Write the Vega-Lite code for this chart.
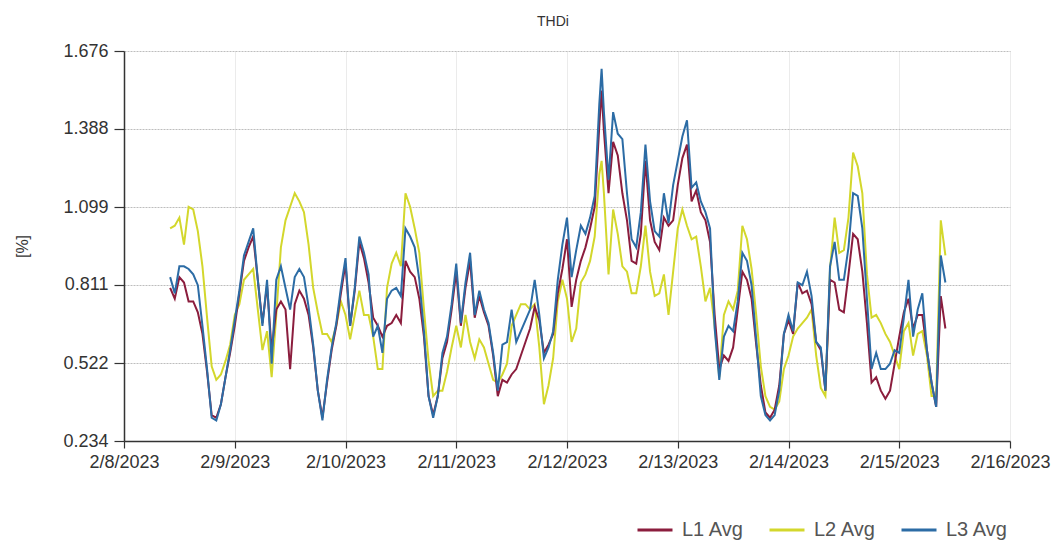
{
  "$schema": "https://vega.github.io/schema/vega-lite/v6.json",
  "width": 886,
  "height": 390,
  "autosize": "none",
  "padding": {"left": 124, "top": 51, "right": 45, "bottom": 101},
  "background": "white",
  "title": {
    "text": "THDi",
    "fontSize": 14,
    "fontWeight": "normal",
    "font": "Liberation Sans",
    "color": "#333333",
    "anchor": "middle",
    "dx": -14,
    "offset": 13
  },
  "data": {
    "values": [
      {"time": "2023-02-08T10:00", "L1 Avg": 0.80, "L2 Avg": 1.02, "L3 Avg": 0.84},
      {"time": "2023-02-08T11:00", "L1 Avg": 0.76, "L2 Avg": 1.03, "L3 Avg": 0.78},
      {"time": "2023-02-08T12:00", "L1 Avg": 0.84, "L2 Avg": 1.06, "L3 Avg": 0.88},
      {"time": "2023-02-08T13:00", "L1 Avg": 0.82, "L2 Avg": 0.96, "L3 Avg": 0.88},
      {"time": "2023-02-08T14:00", "L1 Avg": 0.75, "L2 Avg": 1.10, "L3 Avg": 0.87},
      {"time": "2023-02-08T15:00", "L1 Avg": 0.75, "L2 Avg": 1.09, "L3 Avg": 0.85},
      {"time": "2023-02-08T16:00", "L1 Avg": 0.71, "L2 Avg": 1.01, "L3 Avg": 0.81},
      {"time": "2023-02-08T17:00", "L1 Avg": 0.63, "L2 Avg": 0.88, "L3 Avg": 0.66},
      {"time": "2023-02-08T18:00", "L1 Avg": 0.49, "L2 Avg": 0.69, "L3 Avg": 0.50},
      {"time": "2023-02-08T19:00", "L1 Avg": 0.33, "L2 Avg": 0.51, "L3 Avg": 0.32},
      {"time": "2023-02-08T20:00", "L1 Avg": 0.32, "L2 Avg": 0.46, "L3 Avg": 0.31},
      {"time": "2023-02-08T21:00", "L1 Avg": 0.37, "L2 Avg": 0.48, "L3 Avg": 0.37},
      {"time": "2023-02-08T22:00", "L1 Avg": 0.47, "L2 Avg": 0.53, "L3 Avg": 0.47},
      {"time": "2023-02-08T23:00", "L1 Avg": 0.56, "L2 Avg": 0.59, "L3 Avg": 0.57},
      {"time": "2023-02-09T00:00", "L1 Avg": 0.66, "L2 Avg": 0.70, "L3 Avg": 0.68},
      {"time": "2023-02-09T01:00", "L1 Avg": 0.78, "L2 Avg": 0.74, "L3 Avg": 0.79},
      {"time": "2023-02-09T02:00", "L1 Avg": 0.90, "L2 Avg": 0.83, "L3 Avg": 0.92},
      {"time": "2023-02-09T03:00", "L1 Avg": 0.95, "L2 Avg": 0.85, "L3 Avg": 0.97},
      {"time": "2023-02-09T04:00", "L1 Avg": 0.99, "L2 Avg": 0.87, "L3 Avg": 1.02},
      {"time": "2023-02-09T05:00", "L1 Avg": 0.83, "L2 Avg": 0.72, "L3 Avg": 0.83},
      {"time": "2023-02-09T06:00", "L1 Avg": 0.67, "L2 Avg": 0.57, "L3 Avg": 0.66},
      {"time": "2023-02-09T07:00", "L1 Avg": 0.81, "L2 Avg": 0.64, "L3 Avg": 0.83},
      {"time": "2023-02-09T08:00", "L1 Avg": 0.57, "L2 Avg": 0.47, "L3 Avg": 0.52},
      {"time": "2023-02-09T09:00", "L1 Avg": 0.72, "L2 Avg": 0.70, "L3 Avg": 0.83},
      {"time": "2023-02-09T10:00", "L1 Avg": 0.75, "L2 Avg": 0.95, "L3 Avg": 0.88},
      {"time": "2023-02-09T11:00", "L1 Avg": 0.72, "L2 Avg": 1.05, "L3 Avg": 0.80},
      {"time": "2023-02-09T12:00", "L1 Avg": 0.50, "L2 Avg": 1.10, "L3 Avg": 0.72},
      {"time": "2023-02-09T13:00", "L1 Avg": 0.74, "L2 Avg": 1.15, "L3 Avg": 0.84},
      {"time": "2023-02-09T14:00", "L1 Avg": 0.79, "L2 Avg": 1.12, "L3 Avg": 0.87},
      {"time": "2023-02-09T15:00", "L1 Avg": 0.76, "L2 Avg": 1.08, "L3 Avg": 0.84},
      {"time": "2023-02-09T16:00", "L1 Avg": 0.70, "L2 Avg": 0.96, "L3 Avg": 0.73},
      {"time": "2023-02-09T17:00", "L1 Avg": 0.58, "L2 Avg": 0.80, "L3 Avg": 0.59},
      {"time": "2023-02-09T18:00", "L1 Avg": 0.42, "L2 Avg": 0.71, "L3 Avg": 0.42},
      {"time": "2023-02-09T19:00", "L1 Avg": 0.32, "L2 Avg": 0.63, "L3 Avg": 0.31},
      {"time": "2023-02-09T20:00", "L1 Avg": 0.45, "L2 Avg": 0.63, "L3 Avg": 0.46},
      {"time": "2023-02-09T21:00", "L1 Avg": 0.57, "L2 Avg": 0.60, "L3 Avg": 0.58},
      {"time": "2023-02-09T22:00", "L1 Avg": 0.66, "L2 Avg": 0.66, "L3 Avg": 0.67},
      {"time": "2023-02-09T23:00", "L1 Avg": 0.78, "L2 Avg": 0.75, "L3 Avg": 0.80},
      {"time": "2023-02-10T00:00", "L1 Avg": 0.89, "L2 Avg": 0.70, "L3 Avg": 0.91},
      {"time": "2023-02-10T01:00", "L1 Avg": 0.66, "L2 Avg": 0.61, "L3 Avg": 0.66},
      {"time": "2023-02-10T02:00", "L1 Avg": 0.79, "L2 Avg": 0.70, "L3 Avg": 0.80},
      {"time": "2023-02-10T03:00", "L1 Avg": 0.97, "L2 Avg": 0.79, "L3 Avg": 0.99},
      {"time": "2023-02-10T04:00", "L1 Avg": 0.91, "L2 Avg": 0.70, "L3 Avg": 0.93},
      {"time": "2023-02-10T05:00", "L1 Avg": 0.82, "L2 Avg": 0.70, "L3 Avg": 0.85},
      {"time": "2023-02-10T06:00", "L1 Avg": 0.69, "L2 Avg": 0.62, "L3 Avg": 0.62},
      {"time": "2023-02-10T07:00", "L1 Avg": 0.66, "L2 Avg": 0.50, "L3 Avg": 0.66},
      {"time": "2023-02-10T08:00", "L1 Avg": 0.62, "L2 Avg": 0.50, "L3 Avg": 0.56},
      {"time": "2023-02-10T09:00", "L1 Avg": 0.66, "L2 Avg": 0.80, "L3 Avg": 0.76},
      {"time": "2023-02-10T10:00", "L1 Avg": 0.67, "L2 Avg": 0.89, "L3 Avg": 0.79},
      {"time": "2023-02-10T11:00", "L1 Avg": 0.70, "L2 Avg": 0.93, "L3 Avg": 0.80},
      {"time": "2023-02-10T12:00", "L1 Avg": 0.67, "L2 Avg": 0.88, "L3 Avg": 0.77},
      {"time": "2023-02-10T13:00", "L1 Avg": 0.90, "L2 Avg": 1.15, "L3 Avg": 1.02},
      {"time": "2023-02-10T14:00", "L1 Avg": 0.86, "L2 Avg": 1.10, "L3 Avg": 0.99},
      {"time": "2023-02-10T15:00", "L1 Avg": 0.84, "L2 Avg": 1.02, "L3 Avg": 0.95},
      {"time": "2023-02-10T16:00", "L1 Avg": 0.76, "L2 Avg": 0.93, "L3 Avg": 0.83},
      {"time": "2023-02-10T17:00", "L1 Avg": 0.62, "L2 Avg": 0.72, "L3 Avg": 0.64},
      {"time": "2023-02-10T18:00", "L1 Avg": 0.40, "L2 Avg": 0.53, "L3 Avg": 0.40},
      {"time": "2023-02-10T19:00", "L1 Avg": 0.33, "L2 Avg": 0.40, "L3 Avg": 0.32},
      {"time": "2023-02-10T20:00", "L1 Avg": 0.40, "L2 Avg": 0.42, "L3 Avg": 0.40},
      {"time": "2023-02-10T21:00", "L1 Avg": 0.54, "L2 Avg": 0.42, "L3 Avg": 0.56},
      {"time": "2023-02-10T22:00", "L1 Avg": 0.60, "L2 Avg": 0.49, "L3 Avg": 0.62},
      {"time": "2023-02-10T23:00", "L1 Avg": 0.72, "L2 Avg": 0.58, "L3 Avg": 0.74},
      {"time": "2023-02-11T00:00", "L1 Avg": 0.86, "L2 Avg": 0.66, "L3 Avg": 0.89},
      {"time": "2023-02-11T01:00", "L1 Avg": 0.66, "L2 Avg": 0.58, "L3 Avg": 0.67},
      {"time": "2023-02-11T02:00", "L1 Avg": 0.80, "L2 Avg": 0.70, "L3 Avg": 0.82},
      {"time": "2023-02-11T03:00", "L1 Avg": 0.90, "L2 Avg": 0.60, "L3 Avg": 0.93},
      {"time": "2023-02-11T04:00", "L1 Avg": 0.69, "L2 Avg": 0.54, "L3 Avg": 0.70},
      {"time": "2023-02-11T05:00", "L1 Avg": 0.77, "L2 Avg": 0.61, "L3 Avg": 0.79},
      {"time": "2023-02-11T06:00", "L1 Avg": 0.71, "L2 Avg": 0.58, "L3 Avg": 0.72},
      {"time": "2023-02-11T07:00", "L1 Avg": 0.66, "L2 Avg": 0.52, "L3 Avg": 0.67},
      {"time": "2023-02-11T08:00", "L1 Avg": 0.55, "L2 Avg": 0.46, "L3 Avg": 0.56},
      {"time": "2023-02-11T09:00", "L1 Avg": 0.40, "L2 Avg": 0.45, "L3 Avg": 0.42},
      {"time": "2023-02-11T10:00", "L1 Avg": 0.46, "L2 Avg": 0.48, "L3 Avg": 0.59},
      {"time": "2023-02-11T11:00", "L1 Avg": 0.45, "L2 Avg": 0.52, "L3 Avg": 0.60},
      {"time": "2023-02-11T12:00", "L1 Avg": 0.48, "L2 Avg": 0.66, "L3 Avg": 0.72},
      {"time": "2023-02-11T13:00", "L1 Avg": 0.50, "L2 Avg": 0.70, "L3 Avg": 0.60},
      {"time": "2023-02-11T14:00", "L1 Avg": 0.55, "L2 Avg": 0.74, "L3 Avg": 0.64},
      {"time": "2023-02-11T15:00", "L1 Avg": 0.60, "L2 Avg": 0.74, "L3 Avg": 0.68},
      {"time": "2023-02-11T16:00", "L1 Avg": 0.65, "L2 Avg": 0.72, "L3 Avg": 0.72},
      {"time": "2023-02-11T17:00", "L1 Avg": 0.73, "L2 Avg": 0.74, "L3 Avg": 0.83},
      {"time": "2023-02-11T18:00", "L1 Avg": 0.68, "L2 Avg": 0.58, "L3 Avg": 0.70},
      {"time": "2023-02-11T19:00", "L1 Avg": 0.56, "L2 Avg": 0.37, "L3 Avg": 0.54},
      {"time": "2023-02-11T20:00", "L1 Avg": 0.59, "L2 Avg": 0.44, "L3 Avg": 0.58},
      {"time": "2023-02-11T21:00", "L1 Avg": 0.63, "L2 Avg": 0.54, "L3 Avg": 0.64},
      {"time": "2023-02-11T22:00", "L1 Avg": 0.78, "L2 Avg": 0.75, "L3 Avg": 0.83},
      {"time": "2023-02-11T23:00", "L1 Avg": 0.87, "L2 Avg": 0.83, "L3 Avg": 0.96},
      {"time": "2023-02-12T00:00", "L1 Avg": 0.98, "L2 Avg": 0.76, "L3 Avg": 1.06},
      {"time": "2023-02-12T01:00", "L1 Avg": 0.73, "L2 Avg": 0.60, "L3 Avg": 0.84},
      {"time": "2023-02-12T02:00", "L1 Avg": 0.83, "L2 Avg": 0.65, "L3 Avg": 0.94},
      {"time": "2023-02-12T03:00", "L1 Avg": 0.90, "L2 Avg": 0.82, "L3 Avg": 1.03},
      {"time": "2023-02-12T04:00", "L1 Avg": 0.95, "L2 Avg": 0.85, "L3 Avg": 1.00},
      {"time": "2023-02-12T05:00", "L1 Avg": 1.02, "L2 Avg": 0.90, "L3 Avg": 1.06},
      {"time": "2023-02-12T06:00", "L1 Avg": 1.10, "L2 Avg": 0.99, "L3 Avg": 1.14},
      {"time": "2023-02-12T07:00", "L1 Avg": 1.40, "L2 Avg": 1.22, "L3 Avg": 1.48},
      {"time": "2023-02-12T07:30", "L1 Avg": 1.53, "L2 Avg": 1.27, "L3 Avg": 1.61},
      {"time": "2023-02-12T08:00", "L1 Avg": 1.38, "L2 Avg": 1.15, "L3 Avg": 1.45},
      {"time": "2023-02-12T09:00", "L1 Avg": 1.15, "L2 Avg": 0.85, "L3 Avg": 1.20},
      {"time": "2023-02-12T10:00", "L1 Avg": 1.34, "L2 Avg": 1.09, "L3 Avg": 1.45},
      {"time": "2023-02-12T11:00", "L1 Avg": 1.29, "L2 Avg": 1.00, "L3 Avg": 1.37},
      {"time": "2023-02-12T12:00", "L1 Avg": 1.15, "L2 Avg": 0.88, "L3 Avg": 1.35},
      {"time": "2023-02-12T13:00", "L1 Avg": 1.05, "L2 Avg": 0.86, "L3 Avg": 1.15},
      {"time": "2023-02-12T14:00", "L1 Avg": 0.90, "L2 Avg": 0.78, "L3 Avg": 0.98},
      {"time": "2023-02-12T15:00", "L1 Avg": 0.89, "L2 Avg": 0.78, "L3 Avg": 0.95},
      {"time": "2023-02-12T16:00", "L1 Avg": 1.00, "L2 Avg": 0.88, "L3 Avg": 1.08},
      {"time": "2023-02-12T17:00", "L1 Avg": 1.27, "L2 Avg": 1.03, "L3 Avg": 1.33},
      {"time": "2023-02-12T18:00", "L1 Avg": 1.05, "L2 Avg": 0.86, "L3 Avg": 1.12},
      {"time": "2023-02-12T19:00", "L1 Avg": 0.97, "L2 Avg": 0.77, "L3 Avg": 1.01},
      {"time": "2023-02-12T20:00", "L1 Avg": 0.94, "L2 Avg": 0.78, "L3 Avg": 0.99},
      {"time": "2023-02-12T21:00", "L1 Avg": 1.06, "L2 Avg": 0.85, "L3 Avg": 1.15},
      {"time": "2023-02-12T22:00", "L1 Avg": 1.03, "L2 Avg": 0.70, "L3 Avg": 1.04},
      {"time": "2023-02-12T23:00", "L1 Avg": 1.05, "L2 Avg": 0.86, "L3 Avg": 1.18},
      {"time": "2023-02-13T00:00", "L1 Avg": 1.18, "L2 Avg": 1.02, "L3 Avg": 1.27},
      {"time": "2023-02-13T01:00", "L1 Avg": 1.28, "L2 Avg": 1.09, "L3 Avg": 1.36},
      {"time": "2023-02-13T02:00", "L1 Avg": 1.33, "L2 Avg": 1.03, "L3 Avg": 1.42},
      {"time": "2023-02-13T03:00", "L1 Avg": 1.12, "L2 Avg": 0.98, "L3 Avg": 1.17},
      {"time": "2023-02-13T04:00", "L1 Avg": 1.16, "L2 Avg": 0.99, "L3 Avg": 1.19},
      {"time": "2023-02-13T05:00", "L1 Avg": 1.08, "L2 Avg": 0.88, "L3 Avg": 1.12},
      {"time": "2023-02-13T06:00", "L1 Avg": 1.05, "L2 Avg": 0.75, "L3 Avg": 1.08},
      {"time": "2023-02-13T07:00", "L1 Avg": 0.97, "L2 Avg": 0.80, "L3 Avg": 1.02},
      {"time": "2023-02-13T08:00", "L1 Avg": 0.70, "L2 Avg": 0.66, "L3 Avg": 0.65},
      {"time": "2023-02-13T09:00", "L1 Avg": 0.50, "L2 Avg": 0.47, "L3 Avg": 0.46},
      {"time": "2023-02-13T10:00", "L1 Avg": 0.55, "L2 Avg": 0.70, "L3 Avg": 0.62},
      {"time": "2023-02-13T11:00", "L1 Avg": 0.53, "L2 Avg": 0.75, "L3 Avg": 0.66},
      {"time": "2023-02-13T12:00", "L1 Avg": 0.58, "L2 Avg": 0.72, "L3 Avg": 0.64},
      {"time": "2023-02-13T13:00", "L1 Avg": 0.72, "L2 Avg": 0.79, "L3 Avg": 0.75},
      {"time": "2023-02-13T14:00", "L1 Avg": 0.86, "L2 Avg": 1.03, "L3 Avg": 0.93},
      {"time": "2023-02-13T15:00", "L1 Avg": 0.83, "L2 Avg": 0.98, "L3 Avg": 0.90},
      {"time": "2023-02-13T16:00", "L1 Avg": 0.76, "L2 Avg": 0.87, "L3 Avg": 0.81},
      {"time": "2023-02-13T17:00", "L1 Avg": 0.59, "L2 Avg": 0.70, "L3 Avg": 0.61},
      {"time": "2023-02-13T18:00", "L1 Avg": 0.44, "L2 Avg": 0.51, "L3 Avg": 0.40},
      {"time": "2023-02-13T19:00", "L1 Avg": 0.34, "L2 Avg": 0.40, "L3 Avg": 0.33},
      {"time": "2023-02-13T20:00", "L1 Avg": 0.32, "L2 Avg": 0.36, "L3 Avg": 0.31},
      {"time": "2023-02-13T21:00", "L1 Avg": 0.35, "L2 Avg": 0.35, "L3 Avg": 0.33},
      {"time": "2023-02-13T22:00", "L1 Avg": 0.44, "L2 Avg": 0.38, "L3 Avg": 0.42},
      {"time": "2023-02-13T23:00", "L1 Avg": 0.63, "L2 Avg": 0.50, "L3 Avg": 0.63},
      {"time": "2023-02-14T00:00", "L1 Avg": 0.68, "L2 Avg": 0.55, "L3 Avg": 0.70},
      {"time": "2023-02-14T01:00", "L1 Avg": 0.63, "L2 Avg": 0.62, "L3 Avg": 0.64},
      {"time": "2023-02-14T02:00", "L1 Avg": 0.82, "L2 Avg": 0.65, "L3 Avg": 0.82},
      {"time": "2023-02-14T03:00", "L1 Avg": 0.78, "L2 Avg": 0.67, "L3 Avg": 0.81},
      {"time": "2023-02-14T04:00", "L1 Avg": 0.79, "L2 Avg": 0.69, "L3 Avg": 0.86},
      {"time": "2023-02-14T05:00", "L1 Avg": 0.74, "L2 Avg": 0.72, "L3 Avg": 0.77},
      {"time": "2023-02-14T06:00", "L1 Avg": 0.60, "L2 Avg": 0.55, "L3 Avg": 0.60},
      {"time": "2023-02-14T07:00", "L1 Avg": 0.57, "L2 Avg": 0.43, "L3 Avg": 0.58},
      {"time": "2023-02-14T08:00", "L1 Avg": 0.42, "L2 Avg": 0.40, "L3 Avg": 0.42},
      {"time": "2023-02-14T09:00", "L1 Avg": 0.83, "L2 Avg": 0.87, "L3 Avg": 0.88},
      {"time": "2023-02-14T10:00", "L1 Avg": 0.82, "L2 Avg": 1.06, "L3 Avg": 0.97},
      {"time": "2023-02-14T11:00", "L1 Avg": 0.72, "L2 Avg": 0.93, "L3 Avg": 0.83},
      {"time": "2023-02-14T12:00", "L1 Avg": 0.71, "L2 Avg": 0.94, "L3 Avg": 0.83},
      {"time": "2023-02-14T13:00", "L1 Avg": 0.85, "L2 Avg": 1.06, "L3 Avg": 0.95},
      {"time": "2023-02-14T14:00", "L1 Avg": 1.00, "L2 Avg": 1.30, "L3 Avg": 1.15},
      {"time": "2023-02-14T15:00", "L1 Avg": 0.98, "L2 Avg": 1.25, "L3 Avg": 1.14},
      {"time": "2023-02-14T16:00", "L1 Avg": 0.86, "L2 Avg": 1.15, "L3 Avg": 1.02},
      {"time": "2023-02-14T17:00", "L1 Avg": 0.67, "L2 Avg": 0.85, "L3 Avg": 0.76},
      {"time": "2023-02-14T18:00", "L1 Avg": 0.45, "L2 Avg": 0.69, "L3 Avg": 0.50},
      {"time": "2023-02-14T19:00", "L1 Avg": 0.47, "L2 Avg": 0.70, "L3 Avg": 0.56},
      {"time": "2023-02-14T20:00", "L1 Avg": 0.42, "L2 Avg": 0.67, "L3 Avg": 0.50},
      {"time": "2023-02-14T21:00", "L1 Avg": 0.39, "L2 Avg": 0.63, "L3 Avg": 0.50},
      {"time": "2023-02-14T22:00", "L1 Avg": 0.42, "L2 Avg": 0.60, "L3 Avg": 0.52},
      {"time": "2023-02-14T23:00", "L1 Avg": 0.52, "L2 Avg": 0.55, "L3 Avg": 0.57},
      {"time": "2023-02-15T00:00", "L1 Avg": 0.62, "L2 Avg": 0.50, "L3 Avg": 0.56},
      {"time": "2023-02-15T01:00", "L1 Avg": 0.71, "L2 Avg": 0.64, "L3 Avg": 0.69},
      {"time": "2023-02-15T02:00", "L1 Avg": 0.76, "L2 Avg": 0.67, "L3 Avg": 0.83},
      {"time": "2023-02-15T03:00", "L1 Avg": 0.65, "L2 Avg": 0.55, "L3 Avg": 0.62},
      {"time": "2023-02-15T04:00", "L1 Avg": 0.70, "L2 Avg": 0.63, "L3 Avg": 0.72},
      {"time": "2023-02-15T05:00", "L1 Avg": 0.70, "L2 Avg": 0.64, "L3 Avg": 0.78},
      {"time": "2023-02-15T06:00", "L1 Avg": 0.57, "L2 Avg": 0.55, "L3 Avg": 0.57},
      {"time": "2023-02-15T07:00", "L1 Avg": 0.45, "L2 Avg": 0.40, "L3 Avg": 0.45},
      {"time": "2023-02-15T08:00", "L1 Avg": 0.36, "L2 Avg": 0.40, "L3 Avg": 0.36},
      {"time": "2023-02-15T09:00", "L1 Avg": 0.77, "L2 Avg": 1.05, "L3 Avg": 0.92},
      {"time": "2023-02-15T10:00", "L1 Avg": 0.65, "L2 Avg": 0.92, "L3 Avg": 0.82}
    ]
  },
  "transform": [
    {"fold": ["L1 Avg", "L2 Avg", "L3 Avg"], "as": ["series", "value"]}
  ],
  "encoding": {
    "x": {
      "field": "time",
      "type": "temporal",
      "scale": {
        "domain": [
          {"year": 2023, "month": 2, "date": 8},
          {"year": 2023, "month": 2, "date": 16}
        ]
      },
      "axis": {
        "title": null,
        "values": [
          {"year": 2023, "month": 2, "date": 8},
          {"year": 2023, "month": 2, "date": 9},
          {"year": 2023, "month": 2, "date": 10},
          {"year": 2023, "month": 2, "date": 11},
          {"year": 2023, "month": 2, "date": 12},
          {"year": 2023, "month": 2, "date": 13},
          {"year": 2023, "month": 2, "date": 14},
          {"year": 2023, "month": 2, "date": 15},
          {"year": 2023, "month": 2, "date": 16}
        ],
        "format": "%-m/%-d/%Y",
        "labelFlush": false,
        "labelOverlap": false,
        "labelPadding": 5,
        "tickSize": 7,
        "gridColor": "#d6d6d6",
        "gridDash": [1, 1]
      }
    },
    "y": {
      "field": "value",
      "type": "quantitative",
      "scale": {"domain": [0.234, 1.676], "nice": false, "zero": false},
      "axis": {
        "title": "[%]",
        "values": [0.234, 0.522, 0.811, 1.099, 1.388, 1.676],
        "format": ".3f",
        "tickSize": 10,
        "labelPadding": 6,
        "titleFontSize": 16,
        "titleFontWeight": "normal",
        "titlePadding": 32,
        "gridColor": "#bdbdbd",
        "gridDash": [2, 1]
      }
    },
    "color": {
      "field": "series",
      "type": "nominal",
      "scale": {
        "domain": ["L1 Avg", "L2 Avg", "L3 Avg"],
        "range": ["#8b1d3d", "#d3d72c", "#2c6ca5"]
      },
      "legend": {
        "title": null,
        "orient": "none",
        "legendX": 512,
        "legendY": 460,
        "direction": "horizontal",
        "symbolType": "stroke",
        "symbolSize": 1225,
        "symbolStrokeWidth": 3,
        "labelFontSize": 20,
        "labelColor": "#555555",
        "labelOffset": 8,
        "columnPadding": 19
      }
    }
  },
  "layer": [
    {
      "transform": [{"filter": "datum.series === 'L2 Avg'"}],
      "mark": {"type": "line", "strokeWidth": 2, "interpolate": "linear"}
    },
    {
      "transform": [{"filter": "datum.series === 'L1 Avg'"}],
      "mark": {"type": "line", "strokeWidth": 2, "interpolate": "linear"}
    },
    {
      "transform": [{"filter": "datum.series === 'L3 Avg'"}],
      "mark": {"type": "line", "strokeWidth": 2, "interpolate": "linear"}
    }
  ],
  "config": {
    "view": {"stroke": null},
    "font": "Liberation Sans",
    "axis": {
      "labelFont": "Liberation Sans",
      "labelFontSize": 18,
      "labelColor": "#333333",
      "titleColor": "#333333",
      "titleFont": "Liberation Sans",
      "domainColor": "#333333",
      "domainWidth": 1.5,
      "tickColor": "#333333",
      "tickWidth": 1.2,
      "grid": true,
      "gridWidth": 1
    },
    "legend": {"labelFont": "Liberation Sans"}
  }
}
